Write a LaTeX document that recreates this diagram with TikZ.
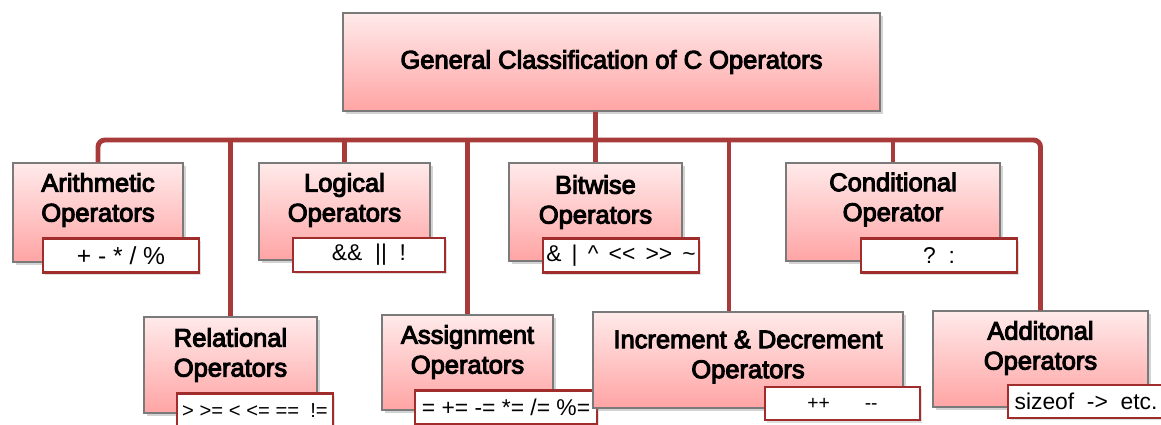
\documentclass[tikz,border=0pt]{standalone}
\usepackage{fontspec}
\setmainfont{Liberation Sans}
\newfontfamily\capfont{Liberation Sans}[FakeBold=4]
\usetikzlibrary{shadows}

\definecolor{linkred}{HTML}{A83A3A}
\definecolor{boxtop}{HTML}{FFEAEA}
\definecolor{boxbot}{HTML}{FFA4A4}
\definecolor{boxline}{HTML}{7A7A7A}
\definecolor{opline}{HTML}{A02C2C}

\begin{document}
\begin{tikzpicture}[
  catbox/.style={rectangle, draw=boxline, line width=0.8pt, top color=boxtop, bottom color=boxbot,
    drop shadow={shadow xshift=0.05cm, shadow yshift=-0.07cm, opacity=0.35}, inner sep=0pt},
  catlabel/.style={font=\capfont\fontsize{14.5}{17}\selectfont, align=center, inner sep=0pt},
  opbox/.style={rectangle, draw=opline, line width=1.5pt, fill=white, inner sep=0pt,
    minimum height=0.68cm, font=\fontsize{13}{15}\selectfont,
    drop shadow={shadow xshift=0.04cm, shadow yshift=-0.05cm, opacity=0.25}},
  link/.style={line width=2.8pt, draw=linkred}
]
  \useasboundingbox (0,0) rectangle (23.22,-8.5);

  % Wurzel
  \node[catbox, minimum width=10.74cm, minimum height=1.96cm] (root) at (12.23,-1.24) {};
  \node[catlabel] (rootT) at (root.center) {General Classification of C Operators};

  % obere Reihe
  \node[catbox, minimum width=3.4cm, minimum height=1.98cm] (arith) at (1.96,-4.25) {};
  \node[catlabel] (arithT) at ([yshift=0.25cm]arith.center) {Arithmetic\\Operators};
  \node[opbox, minimum width=3.12cm, font=\fontsize{14}{16}\selectfont] (arithOp) at (2.42,-5.11) {+ - * / \%};

  \node[catbox, minimum width=3.42cm, minimum height=1.94cm] (logic) at (6.89,-4.23) {};
  \node[catlabel] (logicT) at ([yshift=0.23cm]logic.center) {Logical\\Operators};
  \node[opbox, minimum width=3.04cm] (logicOp) at (7.38,-5.10) {\&\&\ \ ||\ \ !};

  \node[catbox, minimum width=3.46cm, minimum height=1.96cm] (bitw) at (11.91,-4.24) {};
  \node[catlabel] (bitwT) at ([yshift=0.2cm]bitw.center) {Bitwise\\Operators};
  \node[opbox, minimum width=3.12cm] (bitwOp) at (12.42,-5.11) {\&\ \,|\ \,\textasciicircum\ \,<{}<\ \,>{}>\ \,\textasciitilde};

  \node[catbox, minimum width=4.28cm, minimum height=1.96cm] (cond) at (17.86,-4.24) {};
  \node[catlabel] (condT) at ([yshift=0.25cm]cond.center) {Conditional\\Operator};
  \node[opbox, minimum width=3.12cm] (condOp) at (18.78,-5.11) {?\ \ :\hspace{0.4em}};

  % untere Reihe
  \node[catbox, minimum width=3.46cm, minimum height=1.92cm] (rel) at (4.61,-7.30) {};
  \node[catlabel] (relT) at ([yshift=0.2cm]rel.center) {Relational\\Operators};
  \node[opbox, minimum width=3.12cm, font=\fontsize{11.5}{14}\selectfont] (relOp) at (5.10,-8.21) {>\ >=\ <\ <=\ ==\ \ !=};

  \node[catbox, minimum width=3.42cm, minimum height=1.90cm] (asg) at (9.35,-7.25) {};
  \node[catlabel] (asgT) at ([yshift=0.21cm]asg.center) {Assignment\\Operators};
  \node[opbox, minimum width=3.64cm] (asgOp) at (10.12,-8.15) {=\ +=\ -=\ *=\ /=\ \%=};

  \node[catbox, minimum width=6.2cm, minimum height=1.92cm] (inc) at (14.96,-7.20) {};
  \node[catlabel] (incT) at ([yshift=0.06cm]inc.center) {Increment \& Decrement\\Operators};
  \node[opbox, minimum width=3.10cm, minimum height=0.66cm, font=\fontsize{11}{13}\selectfont] (incOp) at (16.85,-8.07) {++\hspace{1.8em}-{}-\hspace{1em}};

  \node[catbox, minimum width=4.3cm, minimum height=1.92cm] (addl) at (20.81,-7.18) {};
  \node[catlabel] (addlT) at ([yshift=0.22cm]addl.center) {Additonal\\Operators};
  \node[opbox, minimum width=3.12cm, minimum height=0.66cm] (addlOp) at (21.72,-8.03) {sizeof\ \ -{}>\ \ etc.};

  % Verbindungen
  \coordinate (bus) at (0,-2.8);
  \draw[link, rounded corners=4pt] (arith.north) -- (arith.north |- bus) -- (addl.north |- bus) -- (addl.north);
  \draw[link] (root.south -| bitw.north) -- (bitw.north);
  \foreach \n in {logic, cond, rel, asg}
    \draw[link] (\n.north |- bus) -- (\n.north);
  \draw[link] ([xshift=-0.38cm]inc.north |- bus) -- ([xshift=-0.38cm]inc.north);

\end{tikzpicture}
\end{document}
